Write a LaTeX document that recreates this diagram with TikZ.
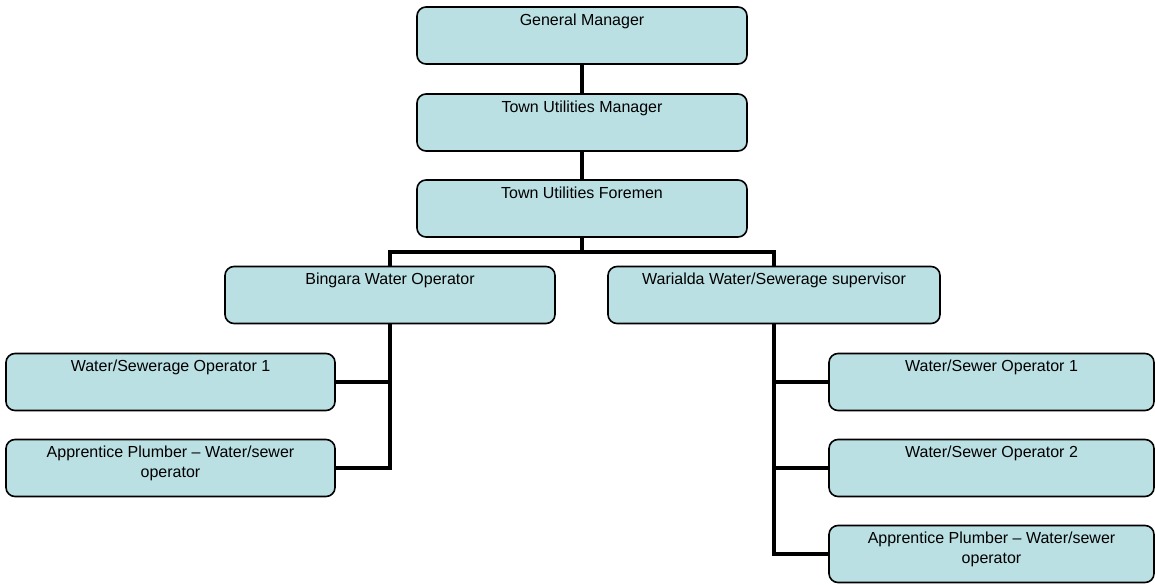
\documentclass[tikz,border=0pt]{standalone}
\usepackage{fontspec}
\setmainfont{Liberation Sans}
\usetikzlibrary{backgrounds}
\definecolor{boxfill}{RGB}{186,224,227}
\tikzset{
  x=1pt, y=-1pt,
  orgbox/.style={draw=black, line width=1.6pt, fill=boxfill, rounded corners=9pt,
    minimum width=330pt, minimum height=57pt, inner sep=0pt},
  lbl/.style={anchor=north, inner sep=0pt, yshift=-7.5pt, align=center,
    font={\fontsize{16}{19.5}\selectfont}},
  conn/.style={draw=black, line width=4.6pt, line join=miter}
}
\begin{document}
\begin{tikzpicture}
\useasboundingbox (0,0) rectangle (1155,585);
\node[orgbox, label={[lbl]north:General Manager}] (gm) at (582,35.5) {};
\node[orgbox, label={[lbl]north:Town Utilities Manager}] (tum) at (582,122.5) {};
\node[orgbox, label={[lbl]north:Town Utilities Foremen}] (tuf) at (582,208.5) {};
\node[orgbox, label={[lbl]north:Bingara Water Operator}] (bin) at (390,295) {};
\node[orgbox, minimum width=332pt, label={[lbl]north:Warialda Water/Sewerage supervisor}] (war) at (774,295) {};
\node[orgbox, minimum width=329pt, label={[lbl]north:Water/Sewerage Operator 1}] (lc1) at (170.5,382) {};
\node[orgbox, minimum width=329pt, label={[lbl]north:Apprentice Plumber -- Water/sewer\\operator}] (lc2) at (170.5,468) {};
\node[orgbox, minimum width=325pt, label={[lbl]north:Water/Sewer Operator 1}] (rc1) at (991.5,382) {};
\node[orgbox, minimum width=325pt, label={[lbl]north:Water/Sewer Operator 2}] (rc2) at (991.5,468) {};
\node[orgbox, minimum width=325pt, label={[lbl]north:Apprentice Plumber -- Water/sewer\\operator}] (rc3) at (991.5,554) {};
\coordinate (bus) at (582,252);
\begin{scope}[on background layer]
\draw[conn] (gm.south) -- (tum.north);
\draw[conn] (tum.south) -- (tuf.north);
\draw[conn] (tuf.south) -- (bus);
\draw[conn] (bin.north) |- (bus) -| (war.north);
\draw[conn] (bin.south) |- (lc1.east);
\draw[conn] (bin.south) |- (lc2.east);
\draw[conn] (war.south) |- (rc1.east);
\draw[conn] (war.south) |- (rc2.east);
\draw[conn] (war.south) |- (rc3.east);
\end{scope}
\end{tikzpicture}
\end{document}
